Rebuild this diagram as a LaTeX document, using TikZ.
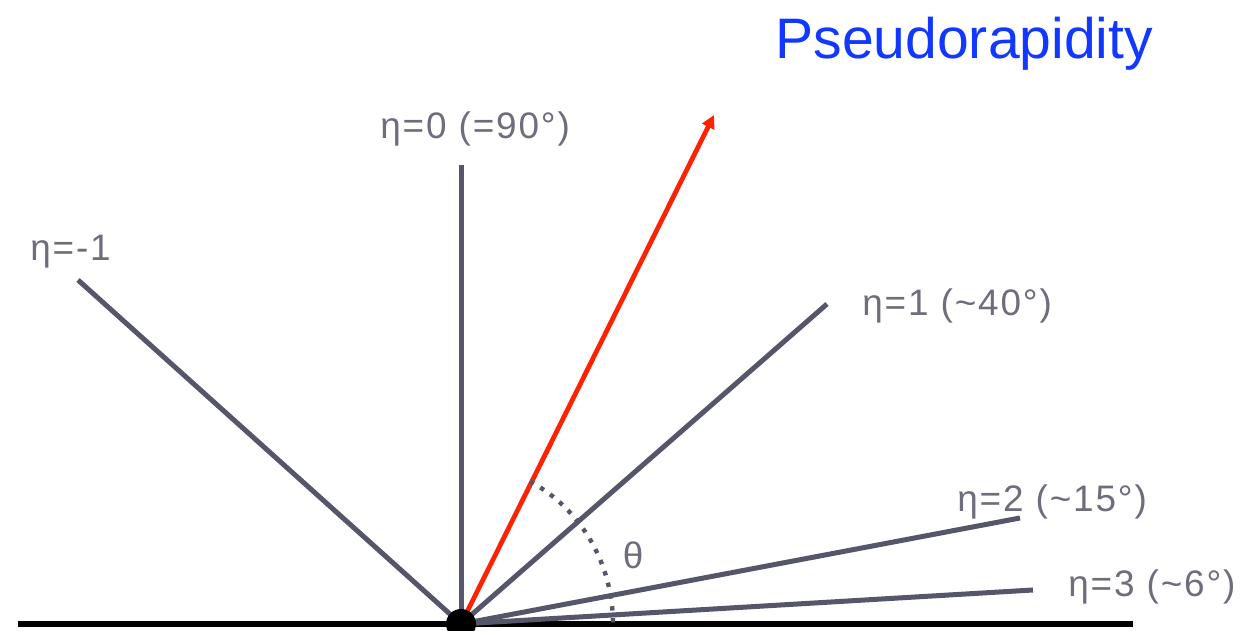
\documentclass[tikz,border=0pt]{standalone}
\usepackage{fontspec}
\setmainfont{Liberation Sans}
\newfontfamily\lblfont[LetterSpace=5]{Liberation Sans}
\usetikzlibrary{arrows.meta}
\definecolor{rayc}{HTML}{56566A}
\definecolor{txtc}{HTML}{6D6D7B}
\definecolor{trkc}{HTML}{FF2200}
\definecolor{ttlc}{HTML}{1238FF}

\begin{document}
\begin{tikzpicture}[
  x=0.02cm,
  y=0.02cm,
  ray/.style={rayc, line width=2.85pt},
  lbl/.style={txtc, font=\fontsize{21}{25}\lblfont, inner sep=0pt, anchor=base west}
]
\useasboundingbox (0,0) rectangle (1243,631);

\coordinate (o) at (461,7);
\coordinate (bl) at (18,7);
\coordinate (br) at (1133,7);
\coordinate (em1) at (78,351);
\coordinate (e0) at (461,466);
\coordinate (e1) at (827,327);
\coordinate (e2) at (1020,113);
\coordinate (e3) at (1033,41);
\coordinate (trk) at (714,516);

% beam line
\draw[black, line width=3pt] (bl) -- (br);

% lines of constant eta
\draw[ray] (o) -- (em1);
\draw[ray] (o) -- (e0);
\draw[ray] (o) -- (e1);
\draw[ray] (o) -- (e2);
\draw[ray] (o) -- (e3);

% particle track and its angle
\draw[trkc, line width=2.7pt, -{Triangle[length=7.5pt,width=7.5pt]}] (o) -- (trk);
\draw[rayc, line width=2.5pt, dash pattern=on 2.5pt off 4.3pt]
  ([shift={(63:152 and 160)}]o) arc[start angle=63, end angle=0, x radius=152, y radius=160];
\fill[black] (o) circle[radius=15];

\node[txtc, font=\fontsize{21}{25}\selectfont] (th) at (633,76) {θ};

\node[lbl] (lm1) at (30,370) {η=-1};
\node[lbl] (l0) at (380,492) {η=0 (=90°)};
\node[lbl] (l1) at (862,315) {η=1 (\textasciitilde40°)};
\node[lbl] (l2) at (957,119) {η=2 (\textasciitilde15°)};
\node[lbl] (l3) at (1068,34) {η=3 (\textasciitilde6°)};

\node[ttlc, font=\fontsize{32.5}{38}\selectfont, inner sep=0pt, anchor=base west] (title) at (775,572) {Pseudorapidity};
\end{tikzpicture}
\end{document}
